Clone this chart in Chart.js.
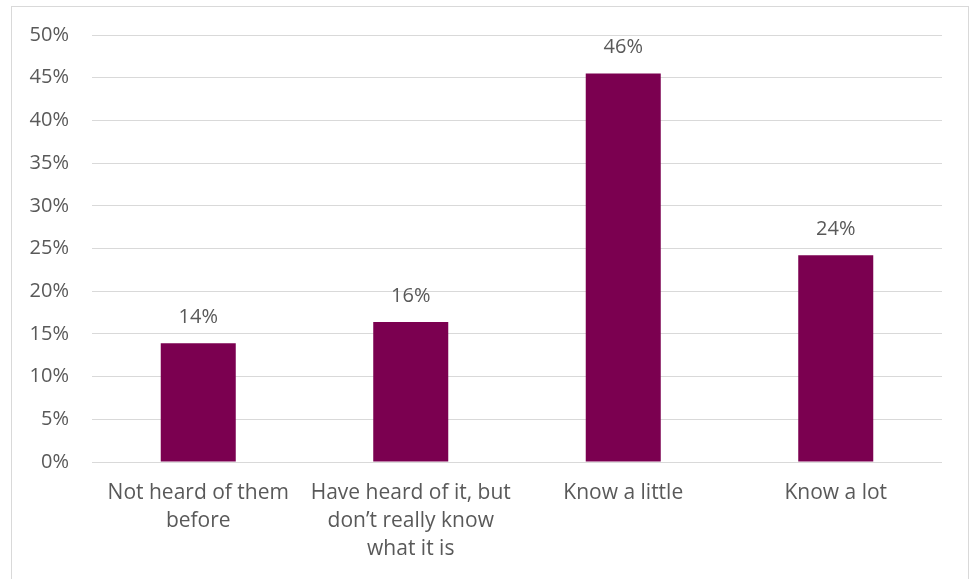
<!DOCTYPE html>
<html>
<head>
<meta charset="utf-8">
<script src="https://cdn.jsdelivr.net/npm/chart.js@4.4.1/dist/chart.umd.min.js"></script>
<style>
  html, body { margin: 0; padding: 0; background: #fff; }
  #wrap { position: relative; width: 971px; height: 579px; }
  #frame { position: absolute; left: 11px; top: 6px; width: 958px; height: 580px; border: 1px solid #d9d9d9; box-sizing: border-box; }
  canvas { position: absolute; left: 0; top: 0; }
</style>
</head>
<body>
<div id="wrap">
  <div id="frame"></div>
  <canvas id="awarenessChart" width="971" height="579"></canvas>
</div>
<script>
const categories = [
  ['Not heard of them', 'before'],
  ['Have heard of it, but', 'don\u2019t really know', 'what it is'],
  'Know a little',
  'Know a lot'
];
const values = [13.9, 16.4, 45.5, 24.2];
const valueLabels = ['14%', '16%', '46%', '24%'];
const yTicks = [0, 5, 10, 15, 20, 25, 30, 35, 40, 45, 50];

const fontFamily = '"Open Sans", "Noto Sans", sans-serif';
const textColor = '#595959';

// draws the % labels above each bar
const barLabels = {
  id: 'barLabels',
  afterDatasetsDraw(chart) {
    const ctx = chart.ctx;
    const meta = chart.getDatasetMeta(0);
    ctx.save();
    ctx.font = '20px ' + fontFamily;
    ctx.fillStyle = textColor;
    ctx.textAlign = 'center';
    ctx.textBaseline = 'middle';
    meta.data.forEach((bar, i) => {
      ctx.fillText(valueLabels[i], bar.x, bar.y - 26);
    });
    ctx.restore();
  }
};

const ctx = document.getElementById('awarenessChart').getContext('2d');
new Chart(ctx, {
  type: 'bar',
  data: {
    labels: categories,
    datasets: [{
      data: values,
      backgroundColor: '#7b0050',
      barPercentage: 0.353,
      categoryPercentage: 1.0
    }]
  },
  options: {
    responsive: false,
    animation: false,
    layout: { padding: { top: 35, right: 29, left: 0, bottom: 0 } },
    plugins: {
      legend: { display: false },
      tooltip: { enabled: false }
    },
    scales: {
      y: {
        min: 0,
        max: 50,
        afterBuildTicks: (scale) => { scale.ticks = yTicks.map(v => ({ value: v })); },
        afterFit: (scale) => { scale.width = 92; },
        border: { display: false },
        grid: { color: '#d9d9d9', lineWidth: 1, drawTicks: false },
        ticks: {
          padding: 23,
          color: textColor,
          font: { family: fontFamily, size: 20 },
          callback: (v) => v + '%'
        }
      },
      x: {
        afterFit: (scale) => { scale.height = 117; },
        border: { display: false },
        grid: { display: false, drawTicks: false },
        ticks: {
          padding: 17,
          color: textColor,
          maxRotation: 0,
          autoSkip: false,
          font: { family: fontFamily, size: 21, lineHeight: 1.333 }
        }
      }
    }
  },
  plugins: [barLabels]
});
</script>
</body>
</html>
